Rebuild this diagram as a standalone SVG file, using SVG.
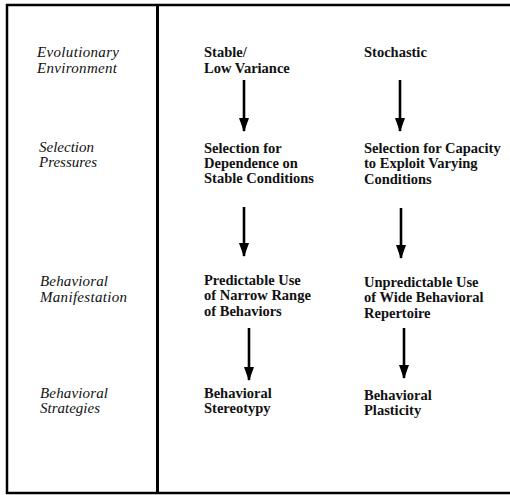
<svg xmlns="http://www.w3.org/2000/svg" width="510" height="495" viewBox="0 0 510 495">
<style>
.frame{stroke:#000;stroke-width:2.5;fill:none}
.lab{font-family:"Liberation Serif","Times New Roman",serif;font-style:italic;font-size:15px;fill:#111}
.box{font-family:"Liberation Serif","Times New Roman",serif;font-weight:bold;font-size:14.5px;fill:#111}
.arr{stroke:#000;stroke-width:2.6;fill:none}
</style>
<defs>
<marker id="ah" viewBox="0 0 14 10" refX="13" refY="5" markerWidth="14" markerHeight="10" markerUnits="userSpaceOnUse" orient="auto">
<path d="M0,0 L14,5 L0,10 Z" fill="#000"/>
</marker>
</defs>
<rect width="510" height="495" fill="#fff"/>
<g id="frame">
<line class="frame" x1="6" y1="5" x2="510" y2="5"/>
<line class="frame" x1="6" y1="493" x2="510" y2="493"/>
<line class="frame" x1="7" y1="4" x2="7" y2="494"/>
<line class="frame" x1="157.5" y1="4" x2="157.5" y2="494" style="stroke-width:3"/>
</g>
<g id="row-labels">
<g id="label-evolutionary"><text class="lab" x="37" y="57" textLength="82" lengthAdjust="spacing">Evolutionary</text><text class="lab" x="37" y="73" textLength="80" lengthAdjust="spacing">Environment</text></g>
<g id="label-selection"><text class="lab" x="39" y="152" textLength="55" lengthAdjust="spacing">Selection</text><text class="lab" x="39" y="167" textLength="58" lengthAdjust="spacing">Pressures</text></g>
<g id="label-manifestation"><text class="lab" x="40" y="286" textLength="68" lengthAdjust="spacing">Behavioral</text><text class="lab" x="40" y="302" textLength="87" lengthAdjust="spacing">Manifestation</text></g>
<g id="label-strategies"><text class="lab" x="40" y="398" textLength="68" lengthAdjust="spacing">Behavioral</text><text class="lab" x="40" y="413" textLength="60" lengthAdjust="spacing">Strategies</text></g>
</g>
<g id="stable"><text class="box" x="204" y="57">Stable/</text><text class="box" x="204" y="73">Low Variance</text></g>
<g id="stochastic"><text class="box" x="364" y="57">Stochastic</text></g>
<g id="sel-dependence"><text class="box" x="204" y="153">Selection for</text><text class="box" x="204" y="168">Dependence on</text><text class="box" x="204" y="183">Stable Conditions</text></g>
<g id="sel-capacity"><text class="box" x="364" y="153">Selection for Capacity</text><text class="box" x="364" y="168">to Exploit Varying</text><text class="box" x="364" y="184">Conditions</text></g>
<g id="predictable"><text class="box" x="204" y="285">Predictable  Use</text><text class="box" x="204" y="300">of Narrow Range</text><text class="box" x="204" y="316">of Behaviors</text></g>
<g id="unpredictable"><text class="box" x="364" y="287">Unpredictable Use</text><text class="box" x="364" y="302">of Wide Behavioral</text><text class="box" x="364" y="318">Repertoire</text></g>
<g id="stereotypy"><text class="box" x="204" y="398">Behavioral</text><text class="box" x="204" y="413">Stereotypy</text></g>
<g id="plasticity"><text class="box" x="364" y="400">Behavioral</text><text class="box" x="364" y="415">Plasticity</text></g>
<g id="connectors">
<line class="arr" x1="244" y1="80" x2="244" y2="131" marker-end="url(#ah)"/>
<line class="arr" x1="400" y1="80" x2="400" y2="131" marker-end="url(#ah)"/>
<line class="arr" x1="244" y1="207" x2="244" y2="256" marker-end="url(#ah)"/>
<line class="arr" x1="401" y1="208" x2="401" y2="258" marker-end="url(#ah)"/>
<line class="arr" x1="249" y1="328" x2="249" y2="380" marker-end="url(#ah)"/>
<line class="arr" x1="404" y1="328" x2="404" y2="378" marker-end="url(#ah)"/>
</g>
</svg>
